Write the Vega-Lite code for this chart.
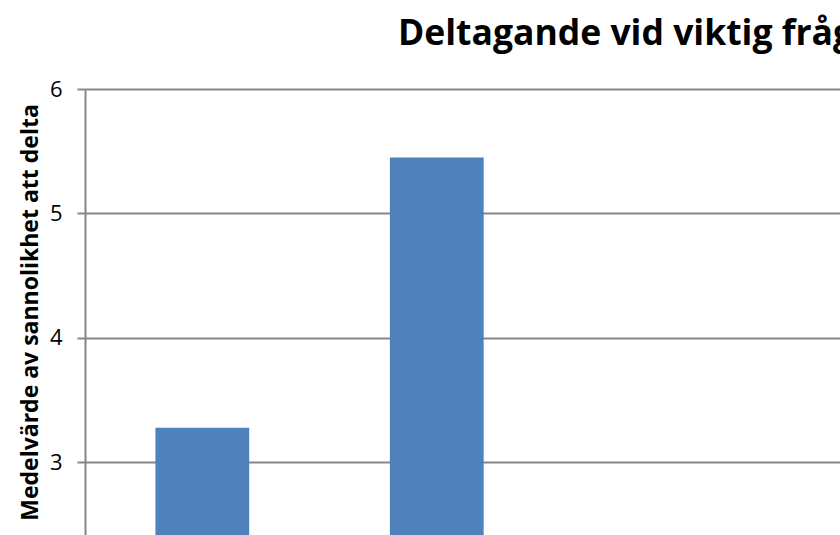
{
  "$schema": "https://vega.github.io/schema/vega-lite/v6.json",
  "autosize": "none",
  "width": 755,
  "height": 446,
  "padding": {"left": 85, "top": 89, "right": 0, "bottom": 0},
  "background": "white",
  "title": {
    "text": "Deltagande vid viktig fråga",
    "anchor": "start",
    "frame": "group",
    "dx": 313,
    "font": "Open Sans",
    "fontSize": 35.5,
    "fontWeight": "bold",
    "color": "black",
    "baseline": "alphabetic",
    "offset": -2
  },
  "data": {
    "values": [
      {"grupp": "Grupp 1", "medel": 3.276},
      {"grupp": "Grupp 2", "medel": 5.45}
    ]
  },
  "mark": {"type": "bar", "color": "#4F81BD", "clip": true},
  "encoding": {
    "x": {
      "field": "grupp",
      "type": "nominal",
      "scale": {"paddingInner": 0.6, "paddingOuter": 0.91, "align": 0.165},
      "axis": null
    },
    "y": {
      "field": "medel",
      "type": "quantitative",
      "scale": {"domain": [2.413, 6], "nice": false, "zero": false},
      "axis": {
        "values": [3, 4, 5, 6],
        "title": "Medelvärde av sannolikhet att delta",
        "titleFont": "Open Sans",
        "titleFontSize": 23,
        "titleFontWeight": "bold",
        "titleColor": "black",
        "titlePadding": 7,
        "labelFont": "Open Sans",
        "labelFontSize": 22,
        "labelColor": "black",
        "labelPadding": 15,
        "domainColor": "#868686",
        "domainWidth": 2,
        "tickColor": "#868686",
        "tickWidth": 2,
        "tickSize": 8,
        "grid": true,
        "gridColor": "#868686",
        "gridWidth": 2
      }
    }
  },
  "config": {"view": {"stroke": null}}
}
